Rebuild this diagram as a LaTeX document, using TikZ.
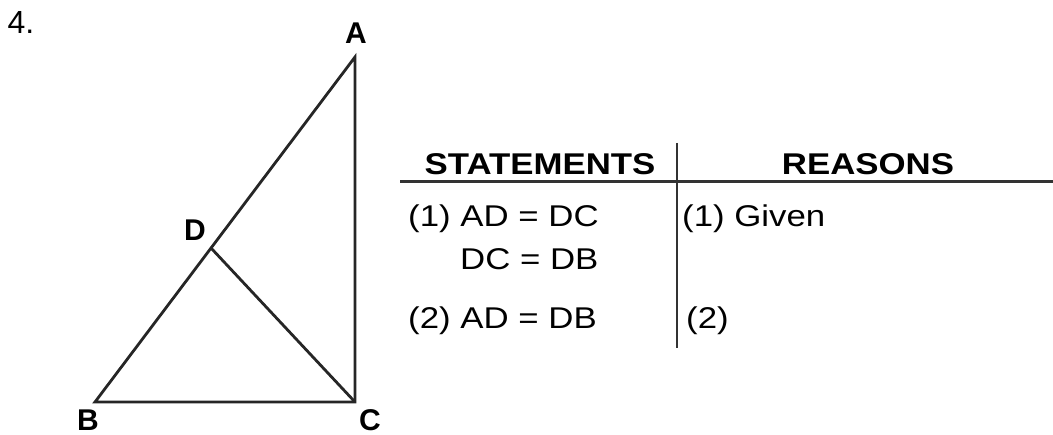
\documentclass[tikz,border=0pt]{standalone}
\usepackage{fontspec}
\setmainfont{Liberation Sans}
\newfontfamily\tabfont{Liberation Sans}[FakeStretch=1.16]
\begin{document}
\begin{tikzpicture}[x=1pt,y=-1pt,
  seg/.style={line width=2.8pt,draw=black!85},
  vlabel/.style={font=\fontsize{30}{30}\selectfont\bfseries,inner sep=0pt},
  head/.style={font=\tabfont\fontsize{30}{30}\selectfont\bfseries,inner sep=0pt,anchor=base},
  row/.style={font=\tabfont\fontsize{30}{30}\selectfont,inner sep=0pt,anchor=base west},
  rule/.style={draw=black!80}]
\useasboundingbox (0,0) rectangle (1053,435);
% figure
\coordinate (A) at (355,57);
\coordinate (B) at (95,402);
\coordinate (C) at (355,402);
\coordinate (D) at (211,248);
\draw[seg,line join=miter] (A) -- (B) -- (C) -- cycle;
\draw[seg] (D) -- (C);
\node[vlabel] (lA) at (356,33) {A};
\node[vlabel] (lB) at (88,420) {B};
\node[vlabel] (lC) at (370,420) {C};
\node[vlabel] (lD) at (195,230) {D};
\node[font=\fontsize{32}{32}\selectfont,inner sep=0pt] (num) at (21,22) {4.};
% table
\coordinate (h1) at (400,182);
\coordinate (h2) at (1053,182);
\coordinate (v1) at (677,143);
\coordinate (v2) at (677,348);
\draw[rule,line width=3pt] (h1) -- (h2);
\draw[rule,line width=2.2pt] (v1) -- (v2);
\node[head] (st) at (540,175) {STATEMENTS};
\node[head] (rs) at (868,175) {REASONS};
\node[row] (s1) at (408,227) {(1) AD = DC};
\node[row] (s1b) at (460,270) {DC = DB};
\node[row] (s2) at (408,329) {(2) AD = DB};
\node[row] (r1) at (682,227) {(1) Given};
\node[row] (r2) at (686,329) {(2)};
\end{tikzpicture}
\end{document}
